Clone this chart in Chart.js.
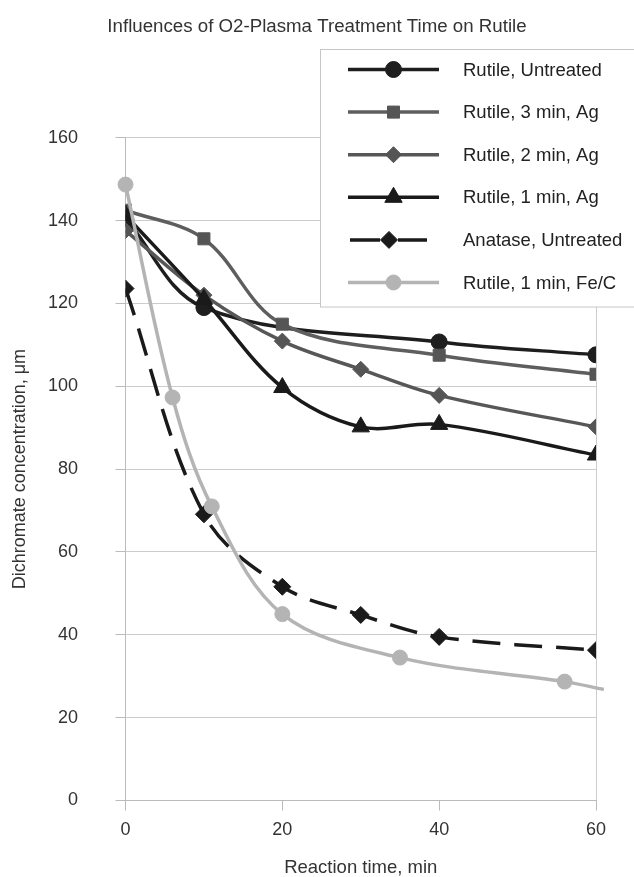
<!DOCTYPE html>
<html><head><meta charset="utf-8">
<script src="https://cdn.jsdelivr.net/npm/chart.js@4.4.1/dist/chart.umd.min.js"></script>
<style>html,body{margin:0;padding:0;background:#fff;}#wrap{width:634px;height:877px;}</style>
</head><body><div id="wrap"><canvas id="c" width="634" height="877"></canvas></div>
<script>
const chartTitle = 'Influences of O2-Plasma Treatment Time on Rutile';
const xTitle = 'Reaction time, min';
const yTitle = 'Dichromate concentration, μm';
const seriesNames = ['Rutile, Untreated','Rutile, 3 min, Ag','Rutile, 2 min, Ag','Rutile, 1 min, Ag','Anatase, Untreated','Rutile, 1 min, Fe/C'];
const untreatedX = [0,10,40,60];
const untreatedY = [140.5,119,110.7,107.6];
const ag3X = [0,10,20,40,60];
const ag3Y = [142.5,135.6,115,107.5,102.9];
const ag2X = [0,10,20,30,40,60];
const ag2Y = [137.6,122,110.9,104.1,97.8,90.2];
const ag1X = [0,10,20,30,40,60];
const ag1Y = [141.3,121,99.7,90.2,90.8,83.4];
const anataseX = [0,10,20,30,40,60];
const anataseY = [123.6,69.1,51.6,44.8,39.5,36.3];
const fecX = [0,6,11,20,35,56,61];
const fecY = [148.7,97.3,71.0,45.0,34.5,28.7,26.8];
const xTicks = [0,20,40,60];
const yTicks = [0,20,40,60,80,100,120,140,160];

const FONT = "'Liberation Sans', Arial, sans-serif";
const pts = (xs, ys) => xs.map((x, i) => ({x: x, y: ys[i]}));

const styles = [
  {color:'#1e1e1e', fill:'#1e1e1e', style:'circle', r:8, dash:[]},
  {color:'#5e5e5e', fill:'#555555', style:'rect', r:8.5, dash:[]},
  {color:'#575757', fill:'#555555', style:'rectRot', r:8, dash:[]},
  {color:'#1a1a1a', fill:'#1a1a1a', style:'triangle', r:10, dash:[]},
  {color:'#1a1a1a', fill:'#1a1a1a', style:'rectRot', r:8.5, dash:[28,14]},
  {color:'#b4b4b4', fill:'#b4b4b4', style:'circle', r:7.5, dash:[]}
];
const seriesData = [pts(untreatedX,untreatedY), pts(ag3X,ag3Y), pts(ag2X,ag2Y), pts(ag1X,ag1Y), pts(anataseX,anataseY), pts(fecX,fecY)];

const datasets = seriesData.map((d, i) => {
  const s = styles[i];
  return {
    label: seriesNames[i],
    data: d,
    borderColor: s.color,
    backgroundColor: s.fill,
    pointBackgroundColor: s.fill,
    pointBorderColor: s.fill,
    pointBorderWidth: 1,
    pointStyle: s.style,
    pointRadius: i === 5 ? d.map((p, j) => j === d.length - 1 ? 0 : s.r) : s.r,
    pointHoverRadius: s.r,
    borderWidth: 3.5,
    borderDash: s.dash,
    tension: 0.35,
    fill: false,
    order: 5 - i,
    clip: i === 5 ? false : undefined
  };
});

function drawMarker(ctx, style, x, y, r, fill) {
  ctx.beginPath();
  if (style === 'circle') ctx.arc(x, y, r, 0, Math.PI * 2);
  else if (style === 'rect') { const s = r * Math.SQRT1_2; ctx.rect(x - s, y - s, 2 * s, 2 * s); }
  else if (style === 'rectRot') { ctx.moveTo(x - r, y); ctx.lineTo(x, y - r); ctx.lineTo(x + r, y); ctx.lineTo(x, y + r); ctx.closePath(); }
  else if (style === 'triangle') {
    let a = 0;
    ctx.moveTo(x + Math.sin(a) * r, y - Math.cos(a) * r);
    a += 2 * Math.PI / 3; ctx.lineTo(x + Math.sin(a) * r, y - Math.cos(a) * r);
    a += 2 * Math.PI / 3; ctx.lineTo(x + Math.sin(a) * r, y - Math.cos(a) * r);
    ctx.closePath();
  }
  ctx.fillStyle = fill; ctx.fill();
  ctx.lineWidth = 1; ctx.strokeStyle = fill; ctx.stroke();
}

const boxLegend = {
  id: 'boxLegend',
  afterDatasetsDraw(chart) {
    const ctx = chart.ctx;
    ctx.save();
    ctx.fillStyle = '#ffffff';
    ctx.fillRect(320.5, 49.5, 330, 257.5);
    ctx.strokeStyle = '#c6c6c6';
    ctx.lineWidth = 1;
    ctx.strokeRect(320.5, 49.5, 330, 257.5);
    chart.data.datasets.forEach((ds, i) => {
      const s = styles[i];
      const y = 69.5 + i * 42.6;
      ctx.strokeStyle = s.color;
      ctx.lineWidth = 3.5;
      ctx.setLineDash([]);
      ctx.beginPath();
      if (s.dash.length) {
        ctx.moveTo(350, y); ctx.lineTo(380, y);
        ctx.moveTo(398, y); ctx.lineTo(427, y);
      } else {
        ctx.moveTo(348, y); ctx.lineTo(439, y);
      }
      ctx.stroke();
      drawMarker(ctx, s.style, s.dash.length ? 389 : 393.5, y, s.r, s.fill);
      ctx.fillStyle = '#222222';
      ctx.font = '18.5px ' + FONT;
      ctx.textBaseline = 'middle';
      ctx.textAlign = 'left';
      ctx.fillText(ds.label, 463, y + 1);
    });
    ctx.restore();
  }
};

new Chart(document.getElementById('c'), {
  type: 'line',
  data: {datasets: datasets},
  plugins: [boxLegend],
  options: {
    responsive: false,
    maintainAspectRatio: false,
    animation: false,
    layout: {padding: {left: 0, right: 0, top: 0, bottom: 0}},
    plugins: {
      legend: {display: false},
      tooltip: {enabled: false},
      title: {
        display: true, text: chartTitle, color: '#333333',
        font: {family: FONT, size: 18.7, weight: 'normal'},
        padding: {top: 16, bottom: 99.3}
      }
    },
    scales: {
      x: {
        type: 'linear', min: 0, max: 60,
        afterBuildTicks: (sc) => { sc.ticks = xTicks.map(v => ({value: v})); },
        afterFit: (sc) => { sc.height = 76.5; },
        grid: {
          color: (c) => (c.tick && c.tick.value === 60) ? '#cccccc' : 'rgba(0,0,0,0)',
          tickColor: '#bbbbbb', tickLength: 10, lineWidth: 1, drawTicks: true
        },
        border: {display: true, color: '#bbbbbb', width: 1},
        ticks: {color: '#333333', font: {family: FONT, size: 18}, padding: 9, maxRotation: 0},
        title: {display: true, text: xTitle, color: '#333333', font: {family: FONT, size: 18.5, lineHeight: 1}, padding: {top: 0, bottom: 0}}
      },
      y: {
        min: 0, max: 160,
        afterBuildTicks: (sc) => { sc.ticks = yTicks.map(v => ({value: v})); },
        afterFit: (sc) => { sc.width = 125.5; },
        grid: {color: '#cccccc', tickColor: '#bbbbbb', tickLength: 10, lineWidth: 1, drawTicks: true},
        border: {display: true, color: '#bbbbbb', width: 1},
        ticks: {color: '#333333', font: {family: FONT, size: 18}, padding: 37.5},
        title: {display: true, text: yTitle, color: '#333333', font: {family: FONT, size: 18}, padding: {top: 9, bottom: 0}}
      },
      yRight: {
        position: 'right', min: 0, max: 160, display: true,
        afterFit: (sc) => { sc.width = 38; },
        grid: {display: false, drawTicks: false},
        border: {display: false},
        ticks: {display: false},
        title: {display: false}
      }
    }
  }
});
</script></body></html>
